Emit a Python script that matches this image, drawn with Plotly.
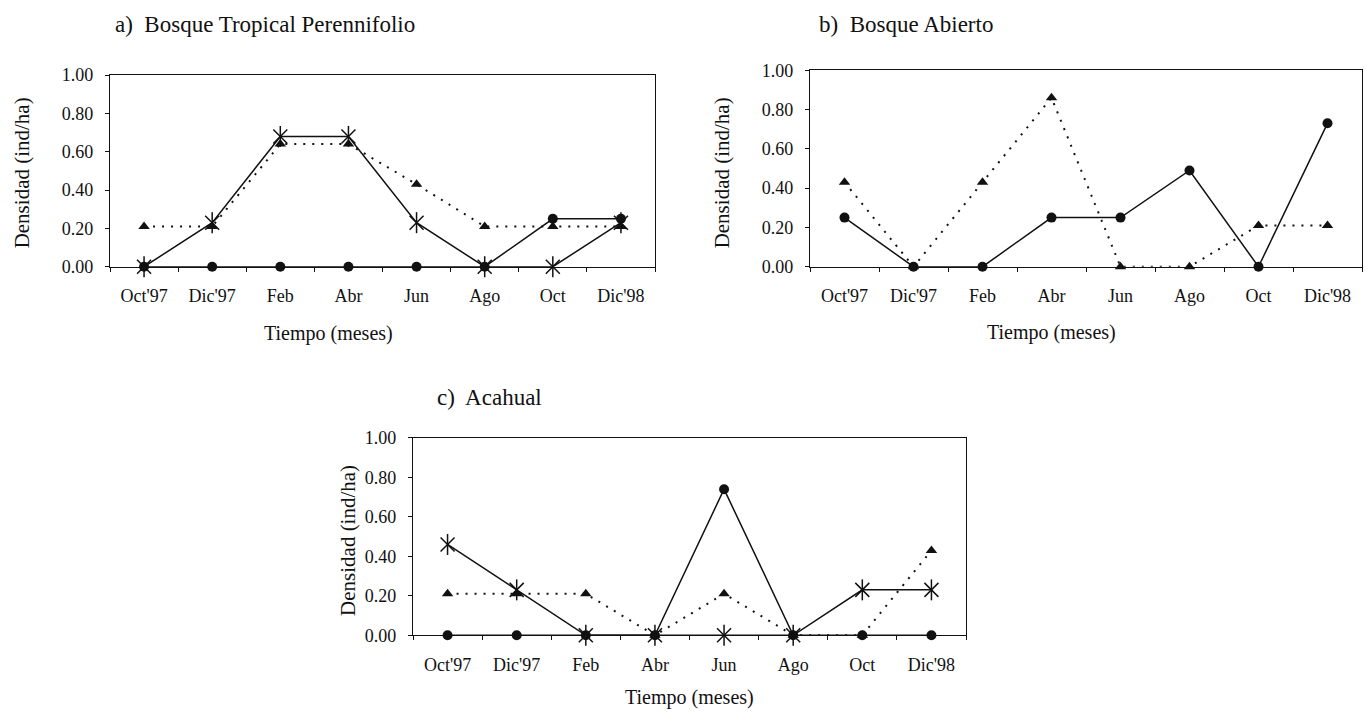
import plotly.graph_objects as go

meses = ["Oct'97", "Dic'97", "Feb", "Abr", "Jun", "Ago", "Oct", "Dic'98"]
y_ticks = [0, 0.2, 0.4, 0.6, 0.8, 1.0]
y_ticktext = ["0.00", "0.20", "0.40", "0.60", "0.80", "1.00"]

a_circulo = [0, 0, 0, 0, 0, 0, 0.25, 0.25]
a_triangulo = [0.21, 0.21, 0.64, 0.64, 0.43, 0.21, 0.21, 0.21]
a_asterisco = [0, 0.23, 0.68, 0.68, 0.23, 0, 0, 0.23]

b_circulo = [0.25, 0, 0, 0.25, 0.25, 0.49, 0, 0.73]
b_triangulo = [0.43, 0, 0.43, 0.86, 0, 0, 0.21, 0.21]

c_circulo = [0, 0, 0, 0, 0.74, 0, 0, 0]
c_triangulo = [0.21, 0.21, 0.21, 0, 0.21, 0, 0, 0.43]
c_asterisco = [0.46, 0.23, 0, 0, 0, 0, 0.23, 0.23]

W, H = 1365, 725
FONT = "Liberation Serif"
INK = "#111111"

fig = go.Figure()

def px_x(p):
    return p / W

def px_y(p):
    return 1 - p / H

panels = [
    ("a", "x", "y", (110, 655, 67, 264)),
    ("b", "x2", "y2", (810, 1362, 62, 264)),
    ("c", "x3", "y3", (413, 966, 440, 643)),
]

def add_circ(vals, xa, ya):
    fig.add_trace(go.Scatter(x=meses, y=vals, xaxis=xa, yaxis=ya, mode="lines+markers",
                             line=dict(color=INK, width=1.5),
                             marker=dict(symbol="circle", size=10, color=INK),
                             cliponaxis=False, showlegend=False))

def add_tri(vals, xa, ya):
    fig.add_trace(go.Scatter(x=meses, y=vals, xaxis=xa, yaxis=ya, mode="lines+markers",
                             line=dict(color=INK, width=2, dash="2px,7px"),
                             marker=dict(symbol="triangle-up", size=10, color=INK),
                             cliponaxis=False, showlegend=False))

def add_ast(vals, xa, ya):
    fig.add_trace(go.Scatter(x=meses, y=vals, xaxis=xa, yaxis=ya, mode="lines+markers",
                             line=dict(color=INK, width=1.5),
                             marker=dict(symbol="x-thin-open", size=14, color=INK,
                                         line=dict(color=INK, width=1.5)),
                             cliponaxis=False, showlegend=False))
    fig.add_trace(go.Scatter(x=meses, y=vals, xaxis=xa, yaxis=ya, mode="markers",
                             marker=dict(symbol="line-ns-open", size=15, color=INK,
                                         line=dict(color=INK, width=1.5)),
                             cliponaxis=False, showlegend=False))

add_circ(a_circulo, "x", "y")
add_tri(a_triangulo, "x", "y")
add_ast(a_asterisco, "x", "y")

add_circ(b_circulo, "x2", "y2")
add_tri(b_triangulo, "x2", "y2")

add_circ(c_circulo, "x3", "y3")
add_tri(c_triangulo, "x3", "y3")
add_ast(c_asterisco, "x3", "y3")

layout = dict(
    width=W, height=H, autosize=False,
    margin=dict(l=0, r=0, t=0, b=0),
    paper_bgcolor="white", plot_bgcolor="white",
    font=dict(family=FONT, color=INK, size=18),
)

for name, xa, ya, (l, r, t, b) in panels:
    xkey = "xaxis" if xa == "x" else "xaxis" + xa[1:]
    ykey = "yaxis" if ya == "y" else "yaxis" + ya[1:]
    layout[xkey] = dict(
        domain=[px_x(l), px_x(r)], anchor=ya, type="category",
        categoryorder="array", categoryarray=meses,
        range=[-0.5, 7.5], tickson="boundaries", ticks="outside", ticklen=4,
        tickcolor=INK, showline=True, linecolor=INK, linewidth=1.2, mirror=True,
        showgrid=False, zeroline=False, ticklabelstandoff=13,
        tickfont=dict(family=FONT, size=18, color=INK),
    )
    layout[ykey] = dict(
        domain=[px_y(b), px_y(t)], anchor=xa, range=[0, 1],
        tickvals=y_ticks, ticktext=y_ticktext, ticks="outside", ticklen=4,
        tickcolor=INK, showline=True, linecolor=INK, linewidth=1.2, mirror=True,
        showgrid=False, zeroline=False, ticklabelstandoff=8,
        tickfont=dict(family=FONT, size=18, color=INK),
    )

fig.update_layout(**layout)

annotations = [
    dict(text="a)  Bosque Tropical Perennifolio", x=113, y=15, xanchor="left", size=23, angle=0),
    dict(text="b)  Bosque Abierto", x=817, y=15, xanchor="left", size=23, angle=0),
    dict(text="c)  Acahual", x=435, y=398, xanchor="left", size=23, angle=0),
    dict(text="Tiempo (meses)", x=328, y=333, xanchor="center", size=20, angle=0),
    dict(text="Tiempo (meses)", x=1051, y=332, xanchor="center", size=20, angle=0),
    dict(text="Tiempo (meses)", x=689, y=707, xanchor="center", size=20, angle=0),
    dict(text="Densidad (ind/ha)", x=22, y=168, xanchor="center", size=21, angle=-90),
    dict(text="Densidad (ind/ha)", x=722, y=168, xanchor="center", size=21, angle=-90),
    dict(text="Densidad (ind/ha)", x=348, y=546, xanchor="center", size=21, angle=-90),
]
for a in annotations:
    fig.add_annotation(text=a["text"], xref="paper", yref="paper",
                       x=px_x(a["x"]), y=px_y(a["y"]), xanchor=a["xanchor"], yanchor="middle",
                       textangle=a["angle"], showarrow=False,
                       font=dict(family=FONT, size=a["size"], color=INK))

fig.write_html("out.html")
